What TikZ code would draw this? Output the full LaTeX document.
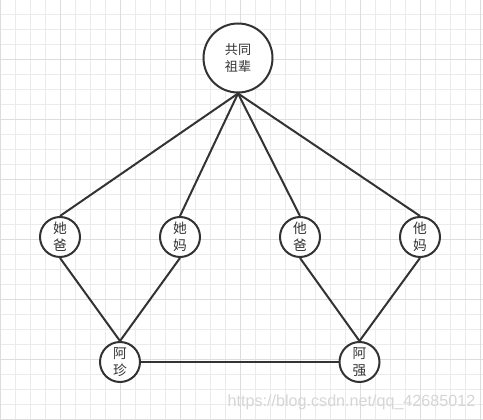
\documentclass[tikz,border=0pt]{standalone}
\usepackage{fontspec}
\newfontfamily\cjk{Noto Sans CJK SC}
\newfontfamily\wmfont{Liberation Sans}
\definecolor{linecol}{HTML}{333333}
\definecolor{textcol}{HTML}{333333}
\definecolor{gridminor}{HTML}{EBEBEB}
\definecolor{gridmajor}{HTML}{DDDDDD}
\definecolor{wmcol}{HTML}{D6D6D6}
\begin{document}
\begin{tikzpicture}[x=0.75pt,y=-0.75pt,
  gridminor/.style={draw=gridminor, line width=0.75pt},
  gridmajor/.style={draw=gridmajor, line width=0.75pt},
  person/.style={circle, draw=linecol, line width=1.5pt, fill=white, minimum size=30pt, inner sep=0pt,
    text=textcol, align=center, font=\cjk\fontsize{10.3}{12.8}\selectfont},
  ancestor/.style={person, minimum size=51.75pt, font=\cjk\fontsize{9.8}{12.2}\selectfont},
  edge/.style={draw=linecol, line width=1.5pt},
  watermark/.style={text=wmcol, font=\wmfont\fontsize{12.1}{14}\selectfont, inner sep=0pt}]
\useasboundingbox (0,0) rectangle (483,420);
\fill[white] (0,0) rectangle (483,420);
% grid
\foreach \gx in {0,15,...,480} \draw[gridminor] (\gx+0.5,0) -- (\gx+0.5,420);
\foreach \gy in {14,29,...,419} \draw[gridminor] (0,\gy+0.5) -- (483,\gy+0.5);
\foreach \gx in {0,60,...,480} \draw[gridmajor] (\gx+0.5,0) -- (\gx+0.5,420);
\foreach \gy in {59,119,...,419} \draw[gridmajor] (0,\gy+0.5) -- (483,\gy+0.5);
% watermark
\node[watermark] (wm) at (351.5,402) {https://blog.csdn.net/qq\_42685012};
% nodes
\node[ancestor] (top) at (238,58) {共同\\祖辈};
\node[person] (hb) at (60,237) {她\\爸};
\node[person] (hm) at (180,237) {她\\妈};
\node[person] (tb) at (300,237) {他\\爸};
\node[person] (tm) at (420,237) {他\\妈};
\node[person] (az) at (120,362) {阿\\珍};
\node[person] (aq) at (359.5,362) {阿\\强};
% edges
\draw[edge] (top.south) -- (hb.north);
\draw[edge] (top.south) -- (hm.north);
\draw[edge] (top.south) -- (tb.north);
\draw[edge] (top.south) -- (tm.north);
\draw[edge] (hb.south) -- (az.north);
\draw[edge] (hm.south) -- (az.north);
\draw[edge] (tb.south) -- (aq.north);
\draw[edge] (tm.south) -- (aq.north);
\draw[edge] (az.east) -- (aq.west);
\end{tikzpicture}
\end{document}
